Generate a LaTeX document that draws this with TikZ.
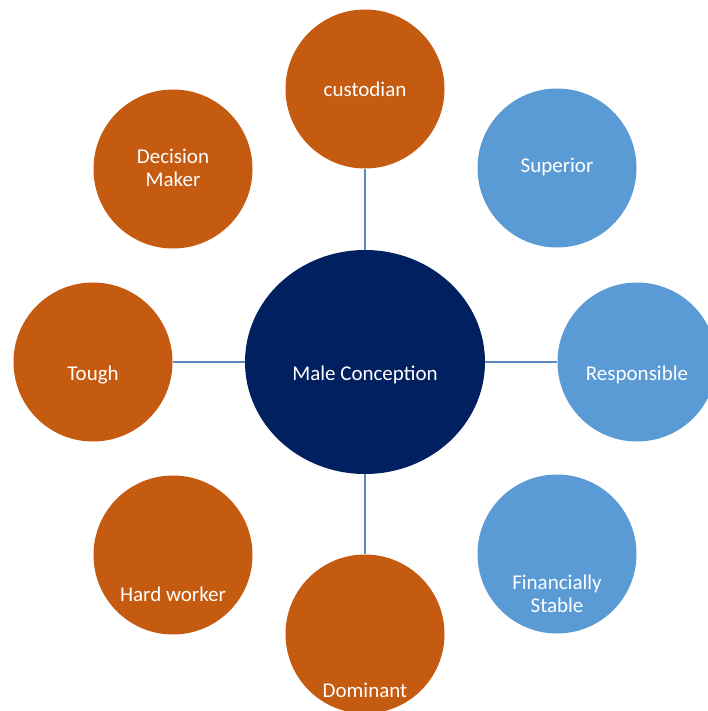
\documentclass[tikz,border=0pt]{standalone}
\usepackage{fontspec}
\setmainfont{Carlito}
\usetikzlibrary{shapes.geometric}
\definecolor{orng}{HTML}{C55A11}
\definecolor{lblue}{HTML}{5B9BD5}
\definecolor{navy}{HTML}{002060}
\definecolor{linkc}{HTML}{5A8AC0}
\tikzset{
  bubble/.style={circle, minimum size=159pt, inner sep=0pt, draw=none},
  obub/.style={bubble, fill=orng},
  bbub/.style={bubble, fill=lblue},
  txt/.style={text=white, font=\fontsize{21}{23}\selectfont, align=center, inner sep=0pt},
  link/.style={draw=linkc, line width=1.2pt}
}
\begin{document}
\begin{tikzpicture}[x=1pt,y=-1pt]
\useasboundingbox (0,0) rectangle (707,711);
\node[ellipse, fill=navy, minimum width=240pt, minimum height=224pt, inner sep=0pt] (c) at (365,362) {};
\node[obub] (cus) at (365,89) {};
\node[bbub] (sup) at (557,168) {};
\node[bbub] (res) at (637,362) {};
\node[bbub] (fin) at (557,554) {};
\node[obub] (dom) at (365,634) {};
\node[obub] (hw) at (173,555) {};
\node[obub] (tou) at (93,362) {};
\node[obub] (dm) at (173,169) {};
\draw[link] (cus) -- (c);
\draw[link] (tou) -- (c);
\draw[link] (res) -- (c);
\draw[link] (dom) -- (c);
\node[txt] (tc) at (365,375) {Male Conception};
\node[txt] (tcus) at (365,89) {custodian};
\node[txt] (tsup) at (557,167) {Superior};
\node[txt] (tres) at (637,375) {Responsible};
\node[txt] (tfin) at (557,594) {Financially\\Stable};
\node[txt] (tdom) at (365,690) {Dominant};
\node[txt] (thw) at (173,594) {Hard worker};
\node[txt] (ttou) at (93,375) {Tough};
\node[txt] (tdm) at (173,168) {Decision\\Maker};
\end{tikzpicture}
\end{document}
